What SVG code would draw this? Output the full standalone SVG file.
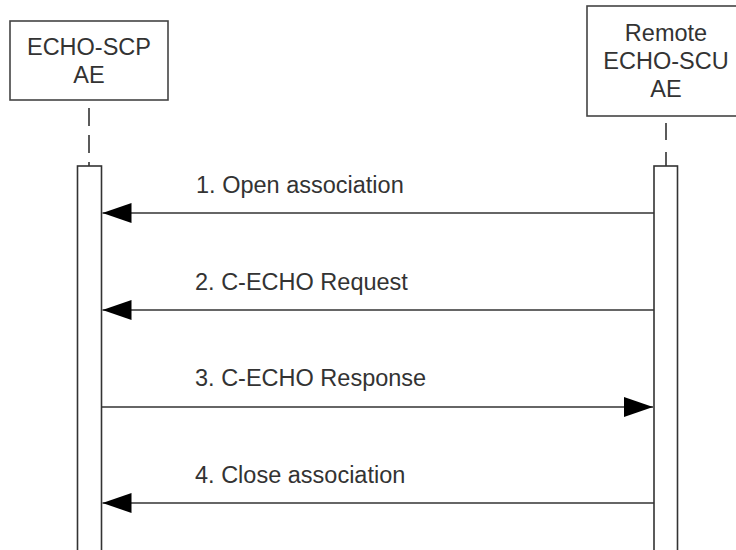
<svg xmlns="http://www.w3.org/2000/svg" width="736" height="550" viewBox="0 0 736 550">
<style>
.box{fill:#fff;stroke:#444;stroke-width:1.6}
.txt{font-family:"Liberation Sans",Arial,sans-serif;font-size:23.5px;fill:#333;text-anchor:middle}
.lbl{font-family:"Liberation Sans",Arial,sans-serif;font-size:23.5px;fill:#333}
.life{stroke:#333;stroke-width:1.6}
.act{fill:#fff;stroke:#333;stroke-width:1.6}
.msg{stroke:#333;stroke-width:1.6;fill:none}
</style>
<defs>
<marker id="ah" markerUnits="userSpaceOnUse" markerWidth="30" markerHeight="22" refX="29" refY="10" orient="auto">
<path d="M0,0 L29,10 L0,20 Z" fill="#000"/>
</marker>
</defs>
<rect width="736" height="550" fill="#fff"/>
<g id="scp">
<rect class="box" x="10" y="21" width="158" height="79"/>
<text class="txt" x="89" y="55">ECHO-SCP</text>
<text class="txt" x="89" y="83">AE</text>
<line class="life" x1="89" y1="108" x2="89" y2="166" stroke-dasharray="18 9"/>
<rect class="act" x="77.5" y="166" width="24" height="400"/>
</g>
<g id="scu">
<rect class="box" x="587" y="6" width="158" height="110"/>
<text class="txt" x="666" y="41">Remote</text>
<text class="txt" x="666" y="69">ECHO-SCU</text>
<text class="txt" x="666" y="97">AE</text>
<line class="life" x1="666" y1="123" x2="666" y2="166" stroke-dasharray="17 12"/>
<rect class="act" x="654" y="166" width="23.5" height="400"/>
</g>
<g id="connectors">
<line class="msg" x1="654" y1="213" x2="102.5" y2="213" marker-end="url(#ah)"/>
<text class="lbl" x="196" y="193">1. Open association</text>
<line class="msg" x1="654" y1="310" x2="102.5" y2="310" marker-end="url(#ah)"/>
<text class="lbl" x="195" y="290">2. C-ECHO Request</text>
<line class="msg" x1="101.5" y1="407" x2="653" y2="407" marker-end="url(#ah)"/>
<text class="lbl" x="195" y="386">3. C-ECHO Response</text>
<line class="msg" x1="654" y1="503" x2="102.5" y2="503" marker-end="url(#ah)"/>
<text class="lbl" x="195" y="483">4. Close association</text>
</g>
</svg>
